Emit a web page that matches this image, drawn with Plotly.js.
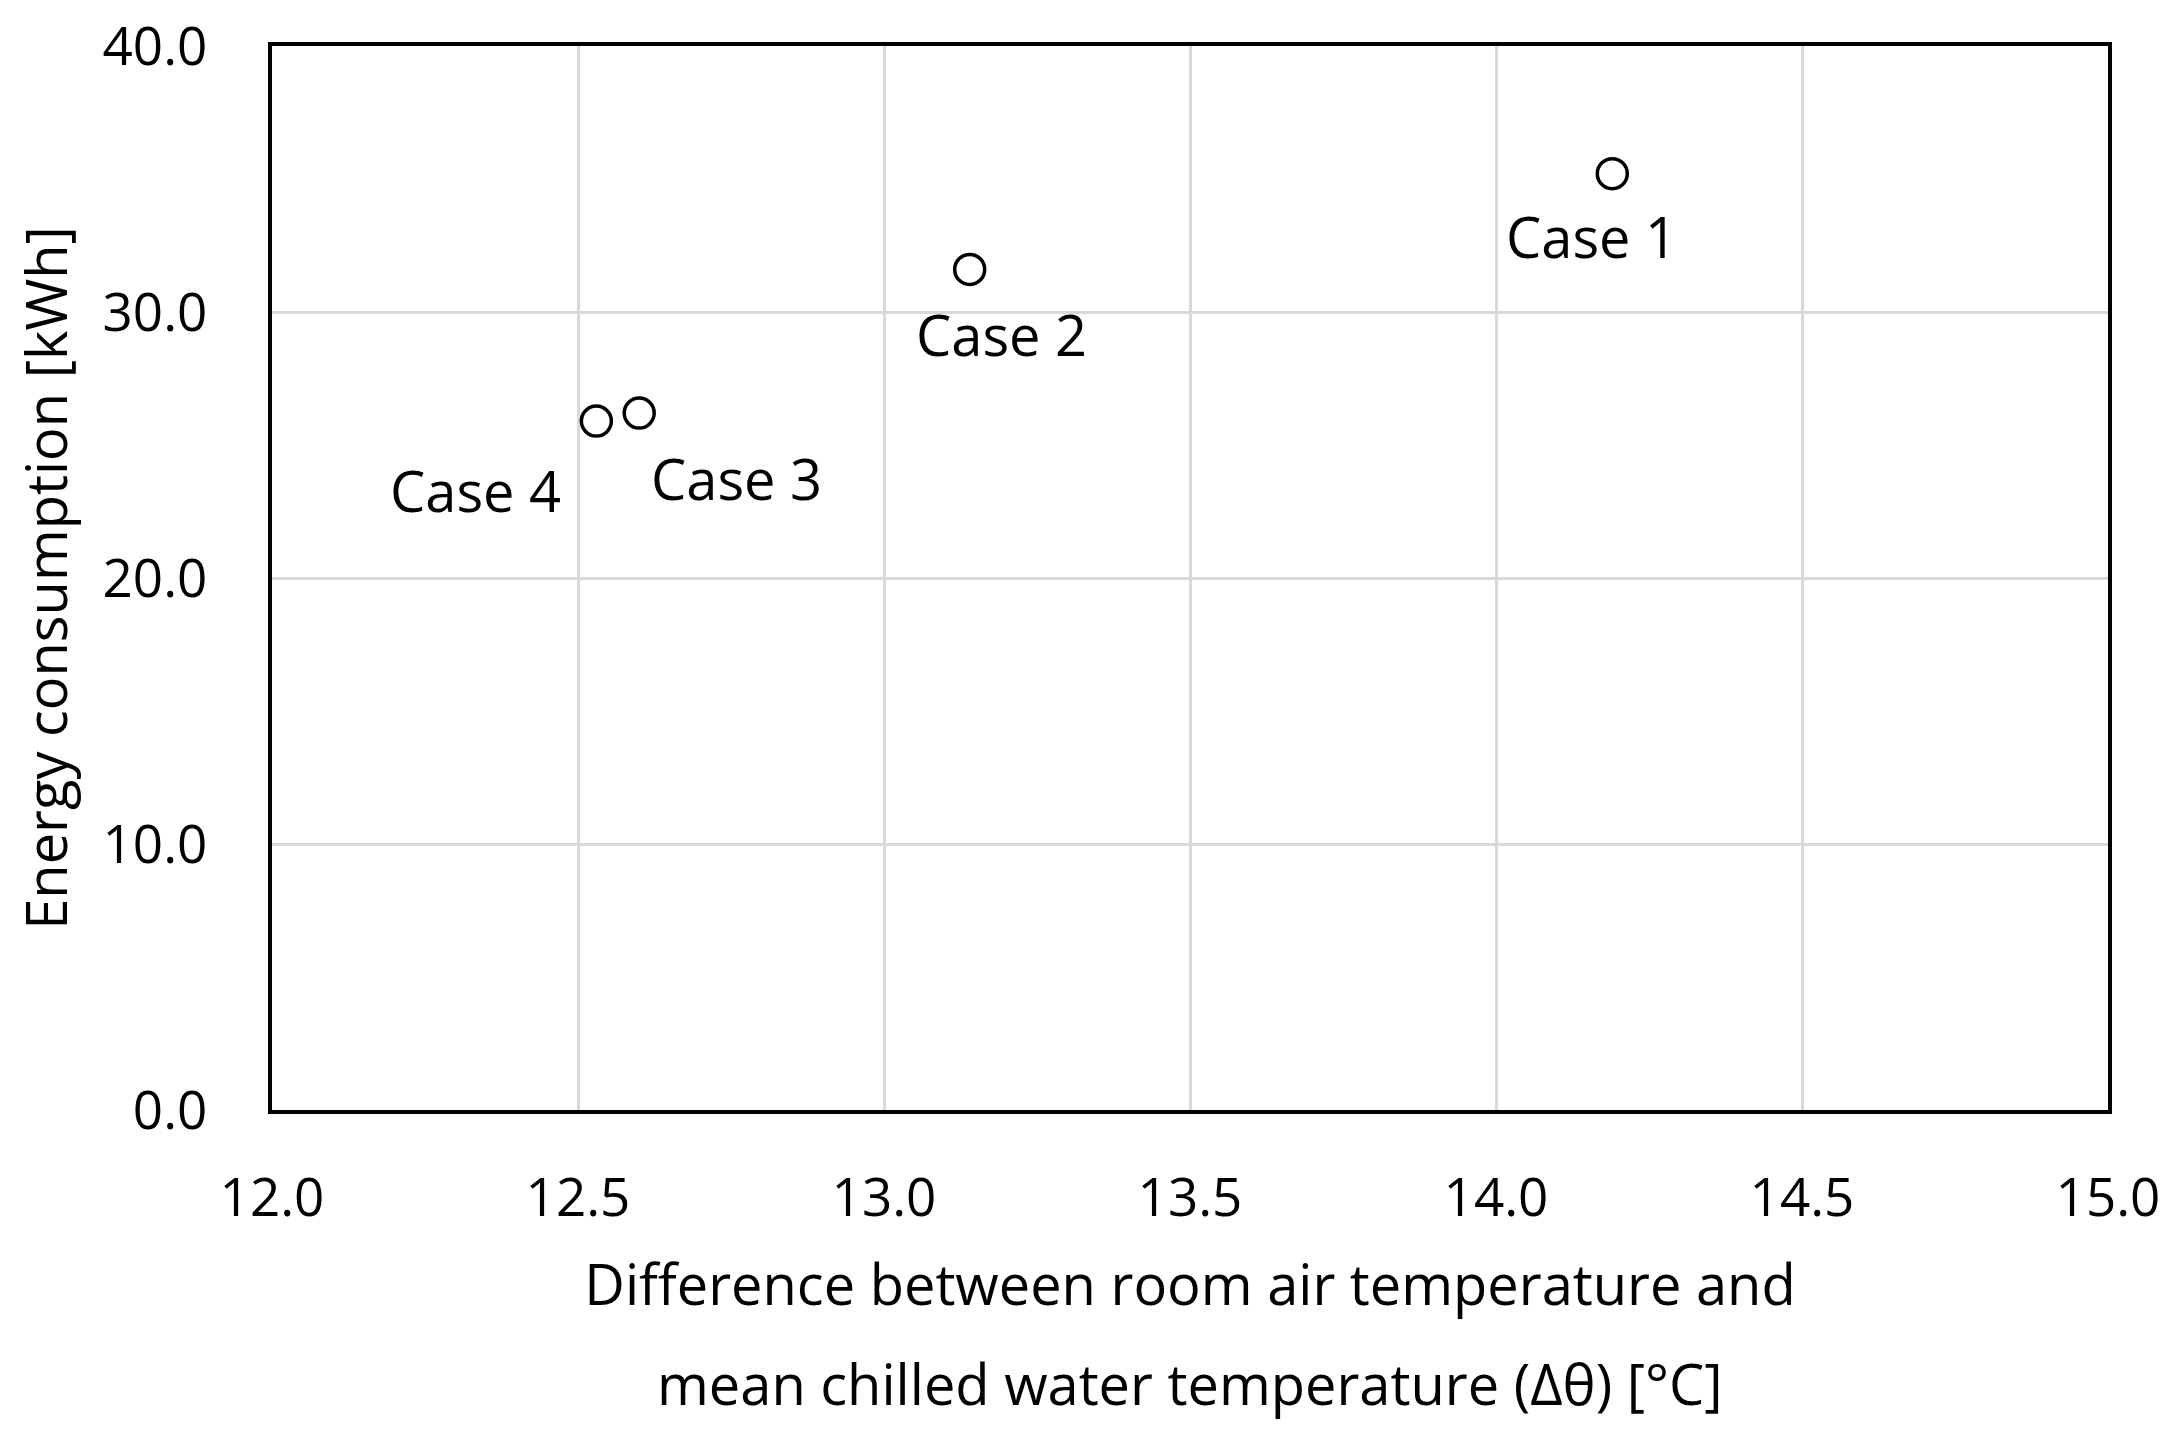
<!DOCTYPE html>
<html>
<head>
<meta charset="utf-8">
<script src="https://cdn.plot.ly/plotly-3.0.1.min.js"></script>
<style>
    body { margin: 0; background: #ffffff; }
    #chart { width: 2173px; height: 1433px; }
</style>
</head>
<body>
<div id="chart"></div>
<script>
// case names and values
let caseNames = ["Case 1", "Case 2", "Case 3", "Case 4"];
let deltaTheta = [14.19, 13.14, 12.60, 12.53];       // [°C]
let energyUse = [35.2, 31.6, 26.2, 25.9];            // [kWh]

// label offsets from each point, in pixels
let labelDx = [-21, 32, 97, -121];
let labelDy = [62, 65, 65, 69];

let fontFamily = "Open Sans, sans-serif";
let textSize = 56;
let tickSize = 53;

// the scatter of open circles
let trace = {
    x: deltaTheta,
    y: energyUse,
    mode: "markers",
    type: "scatter",
    marker: {
        symbol: "circle-open",
        size: 30,
        color: "#000000",
        line: {width: 3.5, color: "#000000"}
    },
    hoverinfo: "x+y"
};

// case labels next to the points
let annotations = caseNames.map((name, i) => ({
    x: deltaTheta[i],
    y: energyUse[i],
    xref: "x",
    yref: "y",
    text: name,
    showarrow: true,
    arrowcolor: "rgba(0,0,0,0)",
    ax: labelDx[i],
    ay: labelDy[i],
    font: {family: fontFamily, size: textSize, color: "#000000"}
}));

// second line of the x axis title (the reference has wide line spacing)
annotations.push({
    x: 0.5,
    y: -(1383 - 1110) / (1110 - 46),
    xref: "paper",
    yref: "paper",
    xanchor: "center",
    yanchor: "middle",
    text: "mean chilled water temperature (Δθ) [°C]",
    showarrow: false,
    font: {family: fontFamily, size: textSize, color: "#000000"}
});

let layout = {
    width: 2173,
    height: 1433,
    margin: {l: 272, r: 65, t: 46, b: 323},
    paper_bgcolor: "#ffffff",
    plot_bgcolor: "#ffffff",
    showlegend: false,
    font: {family: fontFamily, size: tickSize, color: "#000000"},
    xaxis: {
        range: [12, 15],
        dtick: 0.5,
        tickformat: ".1f",
        showgrid: true,
        gridcolor: "#d9d9d9",
        gridwidth: 3,
        zeroline: false,
        showline: true,
        mirror: true,
        linecolor: "#000000",
        linewidth: 4,
        ticks: "outside",
        ticklen: 38,
        tickcolor: "rgba(0,0,0,0)",
        tickfont: {family: fontFamily, size: tickSize},
        title: {
            text: "Difference between room air temperature and",
            font: {family: fontFamily, size: textSize},
            standoff: 36
        },
        automargin: false
    },
    yaxis: {
        range: [0, 40],
        dtick: 10,
        tickformat: ".1f",
        showgrid: true,
        gridcolor: "#d9d9d9",
        gridwidth: 3,
        zeroline: false,
        showline: true,
        mirror: true,
        linecolor: "#000000",
        linewidth: 4,
        ticks: "outside",
        ticklen: 50,
        tickcolor: "rgba(0,0,0,0)",
        tickfont: {family: fontFamily, size: tickSize},
        title: {
            text: "Energy consumption [kWh]",
            font: {family: fontFamily, size: textSize},
            standoff: 18
        },
        automargin: false
    },
    annotations: annotations
};

Plotly.newPlot("chart", [trace], layout, {displayModeBar: false, staticPlot: true});
</script>
</body>
</html>
